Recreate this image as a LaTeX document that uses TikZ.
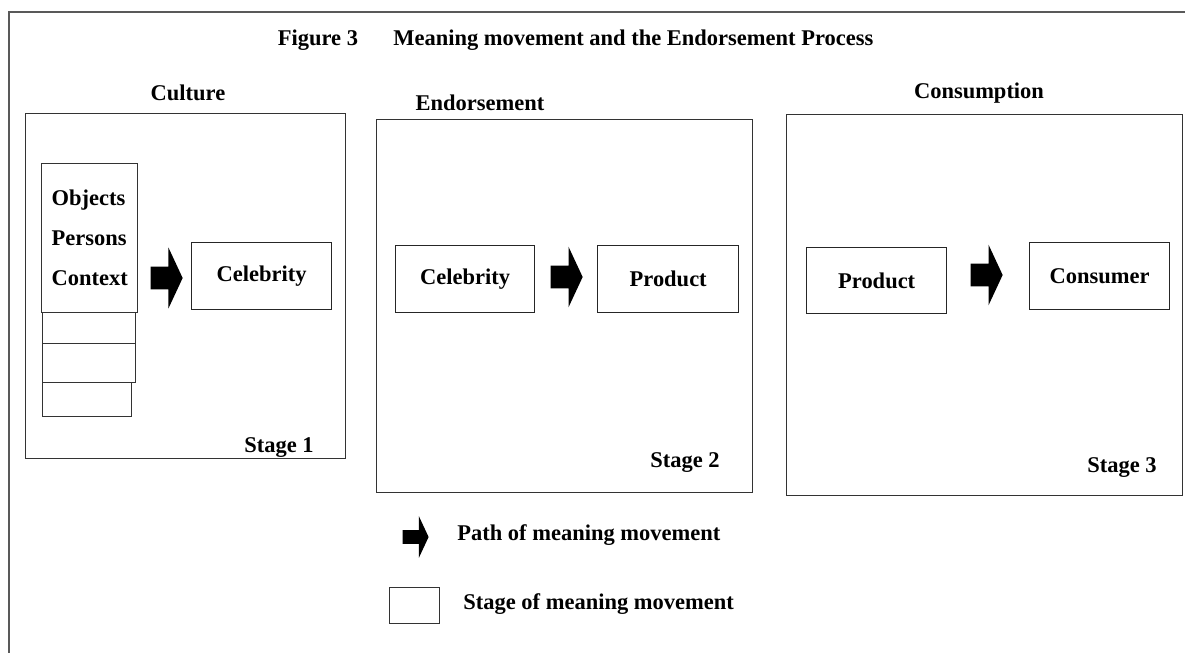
\documentclass[tikz,border=0pt]{standalone}
\usepackage{fontspec}
\setmainfont{Liberation Serif}
\usetikzlibrary{shapes.arrows, positioning}

\begin{document}
\begin{tikzpicture}[
    x=0.02cm, y=-0.02cm,
    every node/.style={font=\fontsize{12.8}{15}\selectfont\bfseries},
    stagebox/.style={rectangle, draw=black!80, line width=0.8pt, anchor=north west, inner sep=0pt},
    itembox/.style={rectangle, draw=black!85, line width=0.8pt, anchor=north west, minimum width=2.8cm, minimum height=1.34cm, align=center},
    flow/.style={single arrow, fill=black, inner xsep=0pt, inner ysep=0.22cm, minimum height=0.64cm, single arrow head extend=0.38cm, single arrow tip angle=130}
]
    \useasboundingbox (0,0) rectangle (1185,652);
    % outer frame, cut off at the right and bottom
    \begin{scope}
        \clip (0,0) rectangle (1185,652);
        \draw[line width=1.1pt, black!65] (9,12) rectangle (1300,720);
    \end{scope}

    % title
    \node (fig) at (318,40) {Figure 3};
    \node[anchor=west, inner sep=0pt] (title) at (393,40) {Meaning movement and the Endorsement Process};

    % stage headings
    \node (culture) at (188,93) {Culture};
    \node (endorse) at (480,103) {Endorsement};
    \node (consume) at (979,93) {Consumption};

    % stage boxes
    \node[stagebox, minimum width=6.4cm, minimum height=6.9cm] (stage1) at (25,113) {};
    \node[stagebox, minimum width=7.52cm, minimum height=7.46cm] (stage2) at (376,119) {};
    \node[stagebox, minimum width=7.92cm, minimum height=7.62cm] (stage3) at (786,114) {};

    % culture stage
    \node[stagebox, minimum width=1.92cm, minimum height=2.98cm, align=left,
          font=\fontsize{12.8}{22.8}\selectfont\bfseries] (objects) at (41,163) {Objects\\Persons\\Context};
    \node[stagebox, minimum width=1.86cm, minimum height=0.62cm] (sub1) at (42,312) {};
    \node[stagebox, minimum width=1.86cm, minimum height=0.78cm] (sub2) at (42,343) {};
    \node[stagebox, minimum width=1.78cm, minimum height=0.68cm] (sub3) at (42,382) {};
    \node[flow] (move1) at (164,278) {};
    \node[itembox] (celeb1) at (191,242) {Celebrity};
    \node (stage1lbl) at (279,448) {Stage 1};

    % endorsement stage
    \node[itembox, minimum width=2.78cm] (celeb2) at (395,245) {Celebrity};
    \node[flow] (move2) at (564,277) {};
    \node[itembox, minimum width=2.82cm] (prod2) at (597,245) {Product};
    \node (stage2lbl) at (685,463) {Stage 2};

    % consumption stage
    \node[itembox, minimum height=1.32cm] (prod3) at (806,247) {Product};
    \node[flow] (move3) at (984,275) {};
    \node[itembox] (consumer) at (1029,242) {Consumer};
    \node (stage3lbl) at (1122,468) {Stage 3};

    % legend
    \node[flow, inner ysep=0.13cm, minimum height=0.52cm, single arrow head extend=0.28cm] (legarrow) at (414,537) {};
    \node[anchor=west, inner sep=0pt] (legpath) at (457,535) {Path of meaning movement};
    \node[stagebox, minimum width=1cm, minimum height=0.72cm] (legbox) at (389,587) {};
    \node[anchor=west, inner sep=0pt] (legstage) at (463,604) {Stage of meaning movement};
\end{tikzpicture}
\end{document}
